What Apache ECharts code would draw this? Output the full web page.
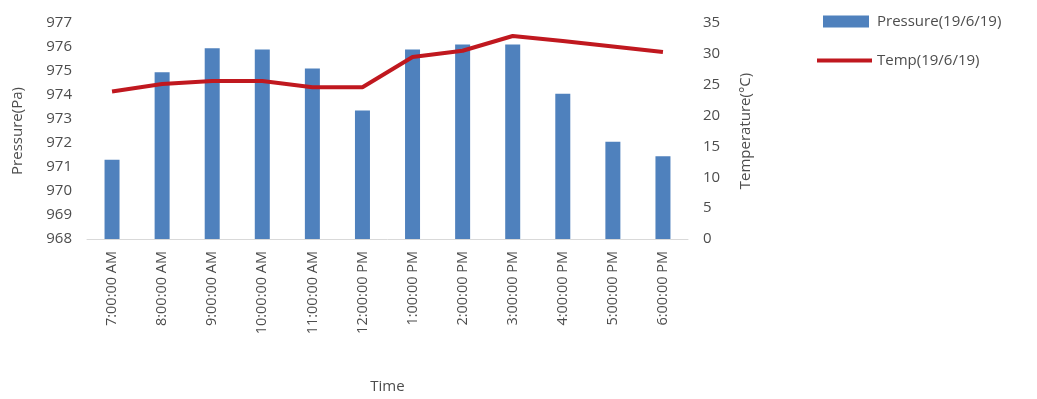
<!DOCTYPE html>
<html>
<head>
<meta charset="utf-8">
<script src="https://cdn.jsdelivr.net/npm/echarts@6/dist/echarts.min.js"></script>
<style>
  html, body { margin: 0; padding: 0; background: #fff; }
  #chart { width: 1037px; height: 399px; }
</style>
</head>
<body>
<div id="chart"></div>
<script>
// Hourly readings for 19/6/19
const times = ['7:00:00 AM', '8:00:00 AM', '9:00:00 AM', '10:00:00 AM', '11:00:00 AM', '12:00:00 PM',
  '1:00:00 PM', '2:00:00 PM', '3:00:00 PM', '4:00:00 PM', '5:00:00 PM', '6:00:00 PM'];
const pressure = [971.3, 974.95, 975.95, 975.9, 975.1, 973.35, 975.9, 976.1, 976.1, 974.05, 972.05, 971.45];
const temperature = [23.9, 25.1, 25.6, 25.6, 24.6, 24.6, 29.5, 30.5, 32.9, 32.1, 31.2, 30.3];

const pressureName = 'Pressure(19/6/19)';
const tempName = 'Temp(19/6/19)';

const FONT = '"Open Sans", "Liberation Sans", sans-serif';
const TEXT = '#4d4d4d';

const chart = echarts.init(document.getElementById('chart'), null, { renderer: 'canvas' });
chart.setOption({
  animation: false,
  backgroundColor: '#ffffff',
  textStyle: { fontFamily: FONT, color: TEXT },
  grid: { left: 87, right: 349, top: 23, bottom: 159, containLabel: false },
  legend: [
    {
      data: [pressureName],
      left: 818, top: 9,
      itemWidth: 46, itemHeight: 12,
      icon: 'rect',
      textStyle: { fontFamily: FONT, fontSize: 15, color: TEXT, padding: [0, 0, 0, 3] }
    },
    {
      data: [tempName],
      left: 812, top: 48,
      itemWidth: 55, itemHeight: 4,
      icon: 'rect',
      textStyle: { fontFamily: FONT, fontSize: 15, color: TEXT, padding: [0, 0, 0, 0] }
    }
  ],
  xAxis: {
    type: 'category',
    data: times,
    boundaryGap: true,
    name: 'Time',
    nameLocation: 'middle',
    nameGap: 140,
    nameTextStyle: { fontFamily: FONT, fontSize: 15, color: TEXT },
    axisLine: { show: true, lineStyle: { color: '#d9d9d9', width: 1 } },
    axisTick: { show: false },
    axisLabel: { rotate: 90, margin: 12, fontFamily: FONT, fontSize: 14.5, color: TEXT, interval: 0 }
  },
  yAxis: [
    {
      type: 'value',
      min: 968, max: 977, interval: 1,
      name: 'Pressure(Pa)',
      nameLocation: 'middle',
      nameGap: 62,
      nameTextStyle: { fontFamily: FONT, fontSize: 15, color: TEXT },
      axisLine: { show: false },
      axisTick: { show: false },
      splitLine: { show: false },
      axisLabel: { margin: 15, fontFamily: FONT, fontSize: 15, color: TEXT }
    },
    {
      type: 'value',
      min: 0, max: 35, interval: 5,
      name: 'Temperature(°C)',
      nameLocation: 'middle',
      nameGap: 50,
      nameRotate: 90,
      nameTextStyle: { fontFamily: FONT, fontSize: 15, color: TEXT },
      axisLine: { show: false },
      axisTick: { show: false },
      splitLine: { show: false },
      axisLabel: { margin: 15, fontFamily: FONT, fontSize: 15, color: TEXT }
    }
  ],
  series: [
    {
      name: pressureName,
      type: 'bar',
      yAxisIndex: 0,
      data: pressure,
      barWidth: 15,
      itemStyle: { color: '#4F81BD' }
    },
    {
      name: tempName,
      type: 'line',
      yAxisIndex: 1,
      data: temperature,
      symbol: 'none',
      smooth: false,
      lineStyle: { color: '#C0181F', width: 4 },
      itemStyle: { color: '#C0181F' },
      z: 3
    }
  ]
});
</script>
</body>
</html>
